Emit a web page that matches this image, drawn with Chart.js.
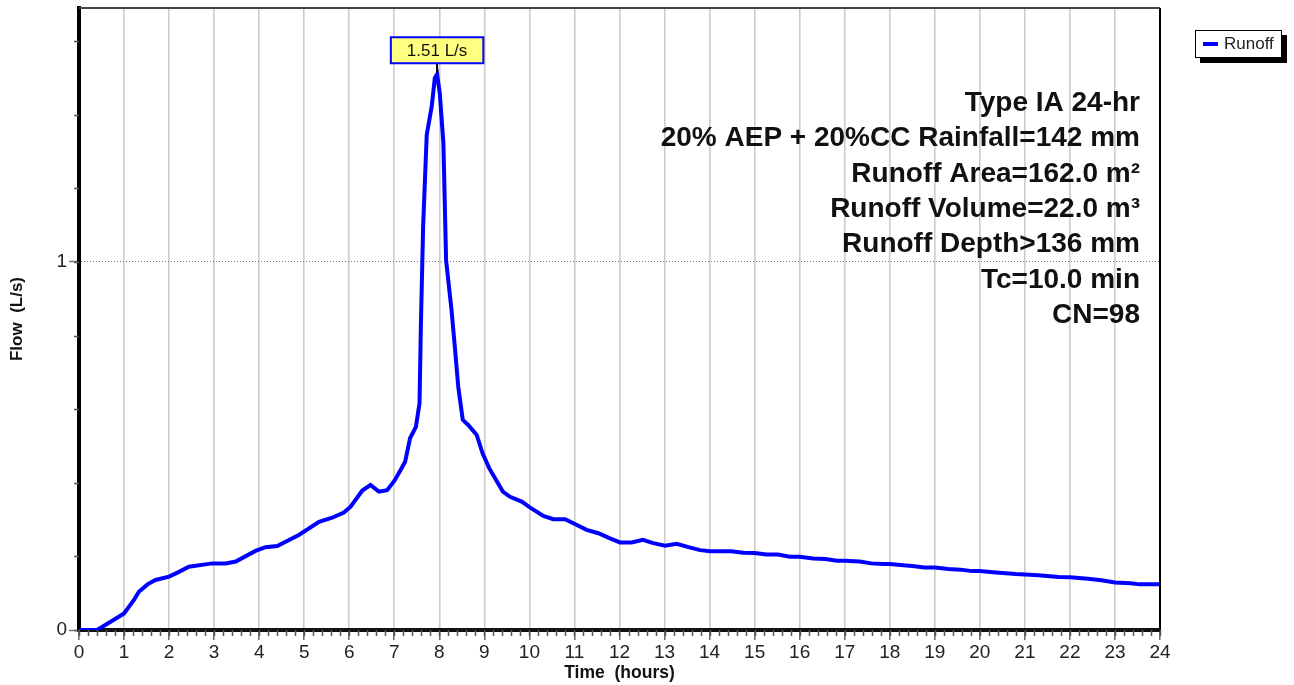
<!DOCTYPE html>
<html>
<head>
<meta charset="utf-8">
<title>Runoff hydrograph</title>
<script src="https://cdn.jsdelivr.net/npm/chart.js@4.4.1/dist/chart.umd.min.js"></script>
<style>
  html, body { margin: 0; padding: 0; background: #fff; }
  #wrap { width: 1294px; height: 685px; position: relative; }
</style>
</head>
<body>
<div id="wrap"><canvas id="hydroChart"></canvas></div>
<script>
// Hydrograph data
const timeHours = [
    0, 0.4, 0.52, 1.0, 1.22, 1.33, 1.52, 1.7, 2.0, 2.22, 2.44, 2.96, 3.26, 3.48,
    3.92, 4.14, 4.4, 4.88, 5.33, 5.62, 5.88, 6.03, 6.29, 6.47, 6.66, 6.84, 7.0,
    7.14, 7.24, 7.35, 7.48, 7.56, 7.59, 7.64, 7.72, 7.83, 7.9, 7.95, 8.01, 8.09,
    8.15, 8.27, 8.35, 8.42, 8.52, 8.64, 8.83, 8.96, 9.11, 9.41, 9.57, 9.83, 10.01,
    10.31, 10.53, 10.79, 11.01, 11.27, 11.53, 11.79, 12.01, 12.27, 12.52, 12.75,
    13.01, 13.27, 13.53, 13.79, 14.01, 14.48, 14.75, 15.0, 15.26, 15.52, 15.78,
    16.0, 16.3, 16.57, 16.83, 17.0, 17.33, 17.59, 17.85, 18.0, 18.3, 18.5, 18.77,
    19.0, 19.3, 19.57, 19.83, 20.0, 20.35, 20.8, 21.0, 21.3, 21.75, 22.0, 22.4,
    22.7, 23.0, 23.35, 23.55, 24.0
];
const runoffFlow = [
    0, 0, 0.009, 0.045, 0.082, 0.104, 0.124, 0.136, 0.145, 0.158, 0.172, 0.181, 0.181, 0.186,
    0.215, 0.225, 0.228, 0.258, 0.294, 0.305, 0.319, 0.335, 0.379, 0.394, 0.376, 0.380, 0.405,
    0.435, 0.457, 0.521, 0.552, 0.616, 0.824, 1.096, 1.345, 1.422, 1.50, 1.51, 1.458, 1.323,
    1.005, 0.870, 0.761, 0.661, 0.571, 0.557, 0.530, 0.480, 0.439, 0.376, 0.362, 0.349, 0.333,
    0.310, 0.301, 0.301, 0.288, 0.272, 0.263, 0.249, 0.238, 0.238, 0.245, 0.236,
    0.229, 0.234, 0.225, 0.217, 0.214, 0.214, 0.210, 0.209, 0.205, 0.205, 0.199,
    0.199, 0.194, 0.193, 0.188, 0.188, 0.186, 0.181, 0.179, 0.179, 0.176, 0.174, 0.170,
    0.170, 0.166, 0.164, 0.160, 0.160, 0.156, 0.152, 0.151, 0.149, 0.144, 0.143, 0.139,
    0.135, 0.129, 0.127, 0.124, 0.124
];
const xTickValues = [0, 1, 2, 3, 4, 5, 6, 7, 8, 9, 10, 11, 12, 13, 14, 15, 16, 17, 18, 19, 20, 21, 22, 23, 24];
const yTickValues = [0, 1];
const minorStep = 0.2;
const yMax = 1.69;
const seriesName = 'Runoff';
const flowUnit = 'L/s';
const noteLines = [
    'Type IA 24-hr',
    '20% AEP + 20%CC Rainfall=142 mm',
    'Runoff Area=162.0 m²',
    'Runoff Volume=22.0 m³',
    'Runoff Depth>136 mm',
    'Tc=10.0 min',
    'CN=98'
];

const FONT = '"Liberation Sans", Arial, sans-serif';

// Marcas menores, marco, etiqueta del pico, leyenda y notas
const decorPlugin = {
    id: 'decor',
    afterDraw(chart) {
        const ctx = chart.ctx;
        const area = chart.chartArea;
        const xs = chart.scales.x;
        const ys = chart.scales.y;

        ctx.save();
        // minor ticks
        ctx.strokeStyle = '#555';
        ctx.lineWidth = 1.5;
        ctx.beginPath();
        for (let v = 0; v <= xs.max + 1e-9; v += minorStep) {
            const px = Math.round(xs.getPixelForValue(v)) + 0.5;
            ctx.moveTo(px, area.bottom);
            ctx.lineTo(px, area.bottom + 6);
        }
        for (let v = 0; v <= ys.max + 1e-9; v += minorStep) {
            const py = Math.round(ys.getPixelForValue(v)) + 0.5;
            ctx.moveTo(area.left - 5, py);
            ctx.lineTo(area.left, py);
        }
        ctx.stroke();

        // frame top / right
        ctx.strokeStyle = '#444';
        ctx.lineWidth = 2;
        ctx.beginPath();
        ctx.moveTo(area.left, area.top);
        ctx.lineTo(area.right, area.top);
        ctx.stroke();
        ctx.strokeStyle = '#000';
        ctx.beginPath();
        ctx.moveTo(area.right, area.top);
        ctx.lineTo(area.right, area.bottom);
        ctx.stroke();

        // peak label
        let iMax = 0;
        runoffFlow.forEach((v, i) => { if (v > runoffFlow[iMax]) iMax = i; });
        const pt = chart.getDatasetMeta(0).data[iMax];
        const label = runoffFlow[iMax].toFixed(2) + ' ' + flowUnit;
        ctx.font = '17px ' + FONT;
        const bw = ctx.measureText(label).width + 32;
        const bh = 26;
        const bx = pt.x - bw / 2;
        const by = pt.y - 11 - bh;
        ctx.strokeStyle = '#000';
        ctx.lineWidth = 2;
        ctx.beginPath();
        ctx.moveTo(pt.x, by + bh);
        ctx.lineTo(pt.x, pt.y - 1);
        ctx.stroke();
        ctx.fillStyle = '#ffff80';
        ctx.fillRect(bx, by, bw, bh);
        ctx.strokeStyle = '#0000ff';
        ctx.strokeRect(bx, by, bw, bh);
        ctx.fillStyle = '#111';
        ctx.textAlign = 'center';
        ctx.textBaseline = 'middle';
        ctx.fillText(label, pt.x, by + bh / 2 + 1);

        // legend
        const lx = area.right + 35, ly = 30, lw = 87, lh = 28;
        ctx.fillStyle = '#000';
        ctx.fillRect(lx + 5, ly + 5, lw, lh);
        ctx.fillStyle = '#fff';
        ctx.fillRect(lx, ly, lw, lh);
        ctx.strokeStyle = '#000';
        ctx.lineWidth = 1;
        ctx.strokeRect(lx + 0.5, ly + 0.5, lw - 1, lh - 1);
        ctx.strokeStyle = '#0000ff';
        ctx.lineWidth = 4;
        ctx.beginPath();
        ctx.moveTo(lx + 8, ly + 14);
        ctx.lineTo(lx + 23, ly + 14);
        ctx.stroke();
        ctx.fillStyle = '#222';
        ctx.font = '17px ' + FONT;
        ctx.textAlign = 'left';
        ctx.textBaseline = 'middle';
        ctx.fillText(seriesName, lx + 29, ly + 14);

        // notes
        ctx.fillStyle = '#111';
        ctx.font = 'bold 28px ' + FONT;
        ctx.textAlign = 'right';
        ctx.textBaseline = 'alphabetic';
        noteLines.forEach((t, i) => {
            ctx.fillText(t, area.right - 20, 111 + i * 35.3);
        });
        ctx.restore();
    }
};

document.addEventListener('DOMContentLoaded', function() {
    const ctx = document.getElementById('hydroChart').getContext('2d');
    new Chart(ctx, {
        type: 'line',
        data: {
            datasets: [{
                label: seriesName,
                data: timeHours.map((t, i) => ({ x: t, y: runoffFlow[i] })),
                borderColor: '#0000ff',
                borderWidth: 4,
                pointRadius: 0,
                tension: 0,
                fill: false
            }]
        },
        options: {
            responsive: true,
            maintainAspectRatio: false,
            animation: false,
            layout: { padding: { top: 8, right: 134, left: 0, bottom: 0 } },
            plugins: {
                legend: { display: false },
                tooltip: { enabled: false }
            },
            scales: {
                x: {
                    type: 'linear',
                    min: 0,
                    max: 24,
                    afterFit: (s) => { s.height = 55; s.paddingLeft = 0; },
                    afterBuildTicks: (s) => { s.ticks = xTickValues.map(v => ({ value: v })); },
                    ticks: {
                        autoSkip: false,
                        maxRotation: 0,
                        padding: 1,
                        color: '#222',
                        font: { family: FONT, size: 19 },
                        callback: (v) => String(v)
                    },
                    grid: {
                        color: '#cccccc',
                        lineWidth: 1.6,
                        tickLength: 10,
                        tickColor: '#666',
                        tickWidth: 1.5
                    },
                    border: { color: '#111', width: 4 },
                    title: {
                        display: true,
                        text: 'Time  (hours)',
                        color: '#111',
                        font: { family: FONT, size: 17.5, weight: 'bold' },
                        padding: { top: 0, bottom: 1 }
                    }
                },
                y: {
                    type: 'linear',
                    min: 0,
                    max: yMax,
                    afterFit: (s) => { s.width = 79; s.paddingTop = 0; s.paddingBottom = 0; },
                    afterBuildTicks: (s) => { s.ticks = yTickValues.map(v => ({ value: v })); },
                    ticks: {
                        autoSkip: false,
                        padding: 2,
                        color: '#222',
                        font: { family: FONT, size: 19 },
                        callback: (v) => String(v)
                    },
                    grid: {
                        color: (c) => (c.tick && c.tick.value === 1) ? '#777' : 'rgba(0,0,0,0)',
                        lineWidth: 1,
                        tickLength: 10,
                        tickColor: '#777',
                        tickWidth: 1.5
                    },
                    border: { color: '#000', width: 4, dash: [1, 2] },
                    title: {
                        display: true,
                        text: 'Flow  (L/s)',
                        color: '#111',
                        font: { family: FONT, size: 17, weight: 'bold' },
                        padding: { top: 7, bottom: 0 }
                    }
                }
            }
        },
        plugins: [decorPlugin]
    });
});
</script>
</body>
</html>
